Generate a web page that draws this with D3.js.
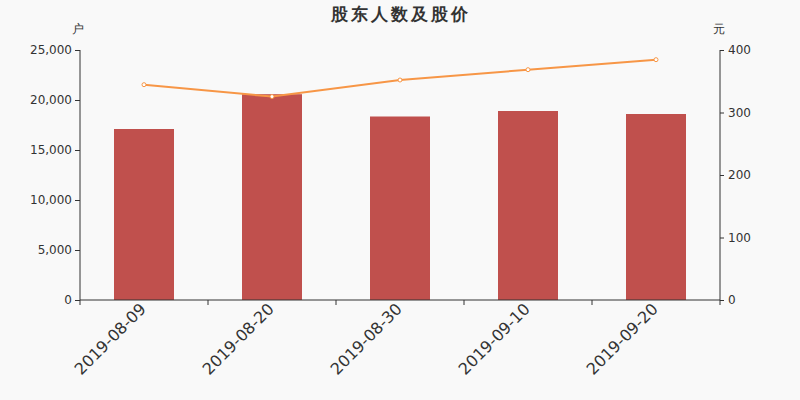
<!DOCTYPE html>
<html><head><meta charset="utf-8">
<script src="https://cdn.jsdelivr.net/npm/d3@7"></script>
<style>body{margin:0;background:#f9f9f9;}svg{display:block;font-family:"DejaVu Sans",sans-serif;}</style>
</head><body>
<svg id="c" width="800" height="400"></svg>
<script>
const categories = ["2019-08-09","2019-08-20","2019-08-30","2019-09-10","2019-09-20"];
const holders = [17100, 20580, 18350, 18900, 18600];
const prices = [344.5, 325.5, 352, 368.5, 384.5];
const leftTicks = [0,5000,10000,15000,20000,25000];
const rightTicks = [0,100,200,300,400];

const svg = d3.select("#c");
const L=80,R=720,T=50,B=300;
const x = d3.scaleBand().domain(categories).range([L,R]);
const yL = d3.scaleLinear().domain([0,25000]).range([B,T]);
const yR = d3.scaleLinear().domain([0,400]).range([B,T]);
const txt="#333";

svg.append("rect").attr("width",800).attr("height",400).attr("fill","#f9f9f9");

svg.append("text").attr("x",401).attr("y",20).attr("text-anchor","middle")
  .attr("font-size",17).attr("font-weight","bold").attr("fill",txt).attr("letter-spacing",3).text("股东人数及股价");
svg.append("text").attr("x",78).attr("y",33).attr("text-anchor","middle").attr("font-size",12).attr("fill",txt).text("户");
svg.append("text").attr("x",719).attr("y",33).attr("text-anchor","middle").attr("font-size",12).attr("fill",txt).text("元");

// bars
const bw = 60;
svg.append("g").selectAll("rect").data(holders).join("rect")
  .attr("x",(d,i)=>x(categories[i])+x.bandwidth()/2-bw/2)
  .attr("width",bw)
  .attr("y",d=>yL(d)).attr("height",d=>B-yL(d))
  .attr("fill","#c0504d");

// axes
const gl = svg.append("g").attr("transform",`translate(${L},0)`)
  .call(d3.axisLeft(yL).tickValues(leftTicks).tickSize(5).tickPadding(3).tickFormat(d3.format(",")));
const gr = svg.append("g").attr("transform",`translate(${R},0)`)
  .call(d3.axisRight(yR).tickValues(rightTicks).tickSize(4).tickPadding(4));
const gx = svg.append("g").attr("transform",`translate(0,${B})`)
  .call(d3.axisBottom(x).tickValues([]).tickSize(0));
// bottom boundary ticks
const edges = categories.map(c=>x(c)).concat([R]);
svg.append("g").selectAll("line").data(edges).join("line")
  .attr("x1",d=>d).attr("x2",d=>d).attr("y1",B).attr("y2",B+5).attr("stroke",txt);
// rotated labels
svg.append("g").selectAll("text").data(categories).join("text")
  .attr("transform",d=>`translate(${x(d)+x.bandwidth()/2+3},${B+10}) rotate(-45)`)
  .attr("text-anchor","end").attr("font-size",16).attr("fill",txt).text(d=>d);

[gl,gr,gx].forEach(g=>{
  g.select(".domain").attr("stroke",txt);
  g.selectAll(".tick line").attr("stroke",txt);
  g.selectAll(".tick text").attr("fill",txt).attr("font-size",12).attr("font-family","DejaVu Sans");
});
gl.select(".domain").attr("d",`M0,${B}V${T}`);
gr.select(".domain").attr("d",`M0,${B}V${T}`);
gx.select(".domain").attr("d",`M${L},0H${R}`);

// line
const line = d3.line().x((d,i)=>x(categories[i])+x.bandwidth()/2).y(d=>yR(d));
svg.append("path").datum(prices).attr("d",line).attr("fill","none")
  .attr("stroke","#f79646").attr("stroke-width",2);
svg.append("g").selectAll("circle").data(prices).join("circle")
  .attr("cx",(d,i)=>x(categories[i])+x.bandwidth()/2).attr("cy",d=>yR(d)).attr("r",2)
  .attr("fill","#fff").attr("stroke","#f79646").attr("stroke-width",1);
</script>
</body></html>
